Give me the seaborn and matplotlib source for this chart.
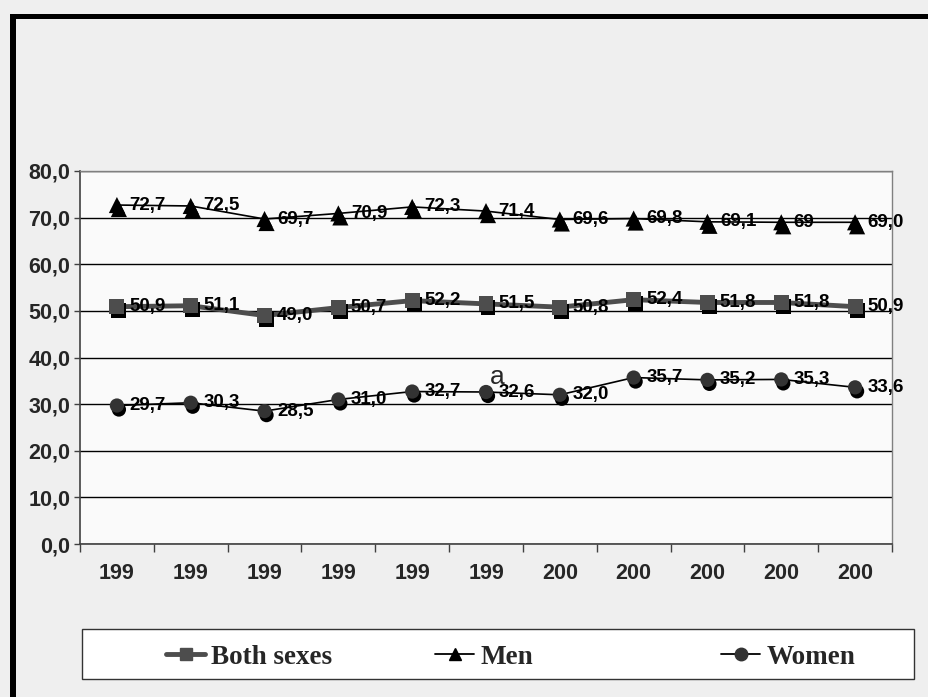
import numpy as np
import pandas as pd
import matplotlib
matplotlib.use("Agg")
import matplotlib.pyplot as plt
import seaborn as sns
from matplotlib.transforms import offset_copy
from matplotlib.patches import Rectangle
from matplotlib.lines import Line2D

# ---- data ----
years = ["1995", "1996", "1997", "1998", "1999", "2000",
         "2001", "2002", "2003", "2004", "2005"]
tick_labels = ["199", "199", "199", "199", "199", "199",
               "200", "200", "200", "200", "200"]
both = [50.9, 51.1, 49.0, 50.7, 52.2, 51.5, 50.8, 52.4, 51.8, 51.8, 50.9]
men = [72.7, 72.5, 69.7, 70.9, 72.3, 71.4, 69.6, 69.8, 69.1, 69.0, 69.0]
women = [29.7, 30.3, 28.5, 31.0, 32.7, 32.6, 32.0, 35.7, 35.2, 35.3, 33.6]
both_labels = ["50,9", "51,1", "49,0", "50,7", "52,2", "51,5", "50,8", "52,4", "51,8", "51,8", "50,9"]
men_labels = ["72,7", "72,5", "69,7", "70,9", "72,3", "71,4", "69,6", "69,8", "69,1", "69", "69,0"]
women_labels = ["29,7", "30,3", "28,5", "31,0", "32,7", "32,6", "32,0", "35,7", "35,2", "35,3", "33,6"]
series_names = ["Both sexes", "Men", "Women"]
y_ticks = [0, 10, 20, 30, 40, 50, 60, 70, 80]

sns.set_theme(style="white")
plt.rcParams["font.family"] = ["Liberation Sans", "DejaVu Sans"]

W, H = 929, 697
fig = plt.figure(figsize=(W / 100, H / 100), dpi=100, facecolor="#efefef")
ax = fig.add_axes([80 / W, 153 / H, 812 / W, 373 / H])
ax.set_facecolor("#fafafa")

x = np.arange(len(years))
df = pd.DataFrame({
    "x": np.tile(x, 3),
    "value": both + men + women,
    "series": np.repeat(series_names, len(years)),
})

line_colors = {"Both sexes": "#4d4d4d", "Men": "#000000", "Women": "#000000"}
line_widths = {"Both sexes": 3.5, "Men": 1.2, "Women": 1.2}
marker_colors = {"Both sexes": "#4d4d4d", "Men": "#000000", "Women": "#333333"}
marker_shapes = {"Both sexes": "s", "Men": "^", "Women": "o"}
marker_sizes = {"Both sexes": 115, "Men": 135, "Women": 105}

sns.lineplot(data=df, x="x", y="value", hue="series", size="series",
             palette=line_colors, sizes=line_widths, legend=False, ax=ax,
             zorder=2)

shadow = offset_copy(ax.transData, fig=fig, x=2, y=-4, units="dots")
for name in series_names:
    sub = df[df["series"] == name]
    sns.scatterplot(data=sub, x="x", y="value", color="black",
                    marker=marker_shapes[name], s=marker_sizes[name],
                    edgecolor="none", legend=False, ax=ax, zorder=3,
                    transform=shadow)
    sns.scatterplot(data=sub, x="x", y="value", color=marker_colors[name],
                    marker=marker_shapes[name], s=marker_sizes[name],
                    edgecolor="none", legend=False, ax=ax, zorder=4)

for vals, labs in [(both, both_labels), (men, men_labels), (women, women_labels)]:
    for xi, v, t in zip(x, vals, labs):
        ax.annotate(t, (xi, v), xytext=(9, 0), textcoords="offset points",
                    ha="left", va="center", fontsize=13.5, fontweight="bold",
                    color="black", zorder=5)

ax.set_xlim(-0.5, len(years) - 0.5)
ax.set_ylim(0, 80)
ax.set_yticks(y_ticks)
ax.set_yticklabels([f"{v:.1f}".replace(".", ",") for v in y_ticks],
                   fontsize=15.5, fontweight="bold")
ax.set_xticks(x)
ax.set_xticklabels(tick_labels, fontsize=15.5, fontweight="bold")
ax.set_xticks(np.arange(-0.5, len(years), 1), minor=True)
ax.tick_params(axis="x", which="major", length=0, pad=14)
ax.tick_params(axis="x", which="minor", length=6, width=1, color="#404040",
               direction="out", bottom=True)
ax.tick_params(axis="y", which="major", length=4, width=1, color="#404040",
               direction="out", left=True, pad=3)
ax.set_xlabel("")
ax.set_ylabel("")
ax.yaxis.grid(True, color="black", lw=1)
ax.xaxis.grid(False)
ax.set_axisbelow(True)
for side in ["left", "bottom"]:
    ax.spines[side].set_color("#404040")
    ax.spines[side].set_linewidth(1.2)
for side in ["right", "top"]:
    ax.spines[side].set_color("#808080")
    ax.spines[side].set_linewidth(1)

# stray text
fig.text(497 / W, 1 - 377 / H, "a", fontsize=19, ha="center", va="center")

# legend box
fig.add_artist(Rectangle((82 / W, 18 / H), 832 / W, 50 / H, transform=fig.transFigure,
                         facecolor="white", edgecolor="#333333", lw=1, zorder=1))
legend_x = {"Both sexes": 166, "Men": 435, "Women": 721}
for name in series_names:
    h = Line2D([], [], color=line_colors[name], lw=line_widths[name] if name == "Both sexes" else 1.3,
               marker=marker_shapes[name], markersize=9, markerfacecolor=marker_colors[name],
               markeredgecolor=marker_colors[name])
    leg = fig.legend(handles=[h], labels=[name], loc="center left",
                     bbox_to_anchor=(legend_x[name] / W, 40 / H), frameon=False,
                     borderpad=0, borderaxespad=0, handlelength=1.45, handletextpad=0.22,
                     prop={"family": "Liberation Serif", "weight": "bold", "size": 19.5})
    leg.set_zorder(3)

# frame border (top and left)
fig.add_artist(Rectangle((10 / W, (H - 19) / H), (W - 10) / W, 5 / H,
                         transform=fig.transFigure, facecolor="black", edgecolor="none"))
fig.add_artist(Rectangle((10 / W, 0), 6 / W, (H - 14) / H,
                         transform=fig.transFigure, facecolor="black", edgecolor="none"))

fig.savefig("out.png", dpi=100, facecolor=fig.get_facecolor())
